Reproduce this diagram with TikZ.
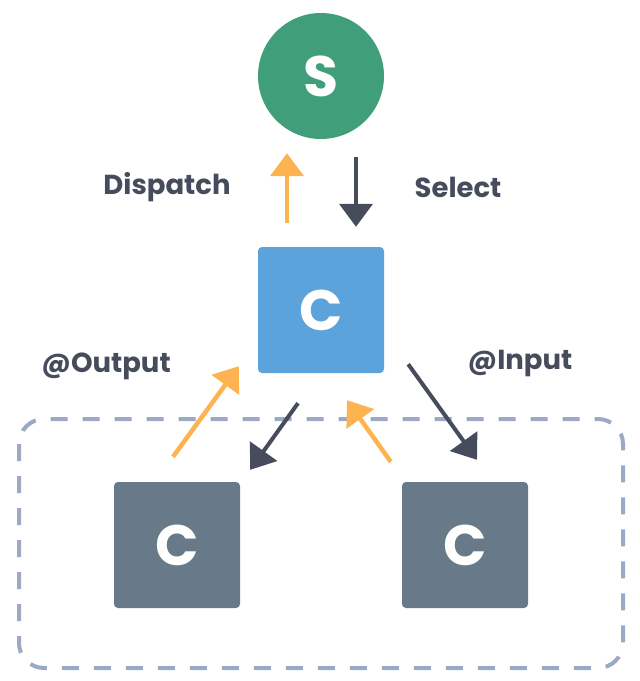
\documentclass[tikz,border=0pt]{standalone}
\usepackage{fontspec}
\setmainfont{Poppins}
\usepackage{xcolor}
\usetikzlibrary{calc,arrows.meta}
\definecolor{storegreen}{HTML}{419E7B}
\definecolor{compblue}{HTML}{5CA2DB}
\definecolor{childgray}{HTML}{687A8A}
\definecolor{flowup}{HTML}{FDB450}
\definecolor{flowdown}{HTML}{474C5C}
\definecolor{framegray}{HTML}{9AA9C6}
\begin{document}
\begin{tikzpicture}[x=1pt, y=-1pt,
  letter/.style={text=white, font=\fontsize{57}{57}\selectfont\bfseries},
  compbox/.style={letter, minimum size=126pt, inner sep=0pt, rounded corners=4pt},
  lbl/.style={text=flowdown, font=\fontsize{27.5}{27.5}\selectfont\bfseries},
  upflow/.style={draw=flowup, line width=4.5pt, -{Triangle[length=23pt,width=33pt]}},
  downflow/.style={draw=flowdown, line width=4pt, -{Triangle[length=23pt,width=33pt]}}]
\useasboundingbox (0,0) rectangle (640,681);
\draw[framegray, line width=4pt, dash pattern=on 17pt off 15pt, rounded corners=25pt] (19,419) rectangle (623,668);
\node[circle, fill=storegreen, minimum size=126pt, inner sep=0pt, letter] (store) at (321,76) {S};
\node[compbox, fill=compblue] (comp) at (321,310) {C};
\node[compbox, fill=childgray] (childL) at (177,545) {C};
\node[compbox, fill=childgray] (childR) at (465,545) {C};
\node[lbl] (dispatch) at (167,187) {Dispatch};
\node[lbl] (select) at (458,187) {Select};
\node[lbl] (output) at (106,366) {@Output};
\node[lbl] (input) at (520,363) {@Input};
\draw[upflow, shorten <=24pt, shorten >=14pt] ([xshift=-34pt]comp.north) -- ([xshift=-34pt]store.south);
\draw[downflow, shorten <=18pt, shorten >=20pt] ([xshift=35pt]store.south) -- ([xshift=35pt]comp.north);
\draw[upflow] ($(childL.north)+(-4,-25)$) -- ($(comp.south west)+(-19,-7)$);
\draw[downflow] ($(comp.south)+(-23,30)$) -- ($(childL.north east)+(10,-12)$);
\draw[upflow] ($(childR.north west)+(-11,-20)$) -- ($(comp.south)+(26,27)$);
\draw[downflow] ($(comp.south east)+(24,-9)$) -- ($(childR.north)+(12,-22)$);
\end{tikzpicture}
\end{document}
